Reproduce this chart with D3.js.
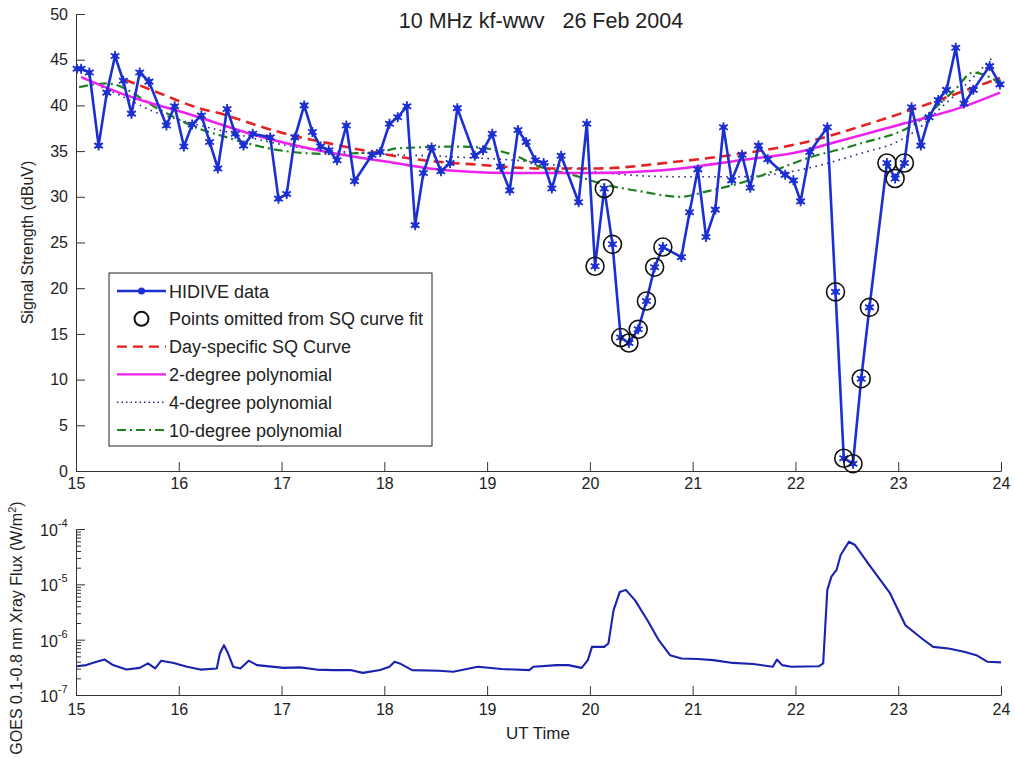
<!DOCTYPE html>
<html>
<head>
<meta charset="utf-8">
<script src="https://cdn.jsdelivr.net/npm/d3@7"></script>
<style>
  body { margin: 0; background: #fff; }
  svg text { font-family: "Liberation Sans", Arial, sans-serif; fill: #222; }
</style>
</head>
<body>
<div id="chart"></div>
<script>
// HIDIVE signal strength, 10 MHz kf-wwv, 26 Feb 2004 (UT hours, dBuV)
const hidiveTime = [15.01, 15.05, 15.13, 15.22, 15.30, 15.38, 15.46, 15.54, 15.62, 15.71,
  15.88, 15.96, 16.05, 16.13, 16.22, 16.30, 16.38, 16.47, 16.55, 16.63, 16.72, 16.89,
  16.97, 17.05, 17.13, 17.22, 17.30, 17.38, 17.46, 17.54, 17.63, 17.71, 17.88, 17.96,
  18.05, 18.13, 18.22, 18.30, 18.38, 18.46, 18.55, 18.64, 18.71, 18.88, 18.96, 19.05,
  19.13, 19.22, 19.30, 19.38, 19.47, 19.55, 19.63, 19.72, 19.89, 19.97, 20.05, 20.14,
  20.22, 20.30, 20.38, 20.47, 20.55, 20.63, 20.71, 20.89, 20.97, 21.05, 21.13, 21.22,
  21.30, 21.38, 21.48, 21.56, 21.64, 21.73, 21.90, 21.98, 22.05, 22.14, 22.31, 22.39,
  22.47, 22.56, 22.64, 22.72, 22.89, 22.97, 23.06, 23.13, 23.22, 23.30, 23.39, 23.47,
  23.56, 23.64, 23.73, 23.89, 23.99];
const hidiveValue = [44.0, 44.0, 43.6, 35.6, 41.4, 45.4, 42.7, 39.1, 43.6, 42.6,
  37.8, 39.9, 35.5, 37.9, 38.9, 36.0, 33.1, 39.6, 36.9, 35.6, 36.9, 36.5,
  29.8, 30.3, 36.5, 40.0, 37.1, 35.5, 35.1, 34.0, 37.8, 31.7, 34.6, 34.9,
  38.0, 38.7, 39.9, 26.9, 32.6, 35.4, 32.8, 33.7, 39.7, 34.5, 35.1, 36.9,
  33.3, 30.7, 37.3, 36.0, 34.0, 33.7, 30.9, 34.5, 29.4, 38.0, 22.4, 30.9,
  24.8, 14.6, 14.0, 15.5, 18.6, 22.3, 24.5, 23.4, 28.3, 33.0, 25.6, 28.6,
  37.6, 31.8, 34.6, 31.0, 35.6, 34.1, 32.4, 31.8, 29.5, 34.9, 37.6, 19.6,
  1.4, 0.8, 10.1, 17.9, 33.7, 32.0, 33.7, 39.8, 35.6, 38.7, 40.6, 41.7,
  46.3, 40.2, 41.7, 44.3, 42.3];
// times of the points left out of the SQ curve fit
const omittedTime = [20.05, 20.14, 20.22, 20.30, 20.38, 20.47, 20.55, 20.63, 20.71,
  22.39, 22.47, 22.56, 22.64, 22.72, 22.89, 22.97, 23.06];

// fitted curves
const sqTime = [15.48, 15.82, 16.14, 16.47, 16.79, 17.11, 17.44, 17.93, 18.38, 18.93,
  19.51, 20.07, 20.81, 21.46, 22.11, 22.69, 23.02, 23.67, 23.99];
const sqValue = [42.8, 41.3, 39.9, 38.9, 37.7, 36.7, 35.9, 34.8, 34.0, 33.5,
  33.1, 33.1, 33.8, 34.7, 36.0, 37.9, 39.1, 41.7, 43.0];
const poly2Time = [15.05, 15.49, 16.14, 16.79, 17.44, 18.05, 18.44, 19.25, 20.03, 20.71,
  21.46, 22.11, 22.36, 23.02, 23.67, 23.99];
const poly2Value = [43.1, 41.1, 38.9, 36.6, 34.9, 33.8, 33.1, 32.6, 32.6, 32.9,
  34.0, 35.1, 35.9, 37.9, 40.0, 41.4];
const poly4Time = [15.25, 15.43, 15.72, 16.14, 16.47, 17.11, 17.76, 18.61, 19.46, 20.16,
  20.81, 21.46, 22.11, 22.59, 23.02, 23.18, 23.43, 23.50, 23.93];
const poly4Value = [42.0, 41.1, 39.5, 38.0, 37.1, 35.5, 34.8, 34.4, 33.8, 32.6,
  32.2, 32.2, 33.1, 34.6, 36.2, 37.3, 39.9, 40.6, 45.4];
const poly10Time = [15.03, 15.30, 15.82, 16.14, 16.47, 16.79, 17.11, 17.44, 17.96, 18.12,
  18.76, 19.25, 19.51, 19.83, 20.16, 20.49, 20.88, 21.14, 21.46, 21.78, 22.11, 22.59,
  23.18, 23.55, 23.73, 23.85, 23.99];
const poly10Value = [42.0, 42.4, 39.5, 37.7, 36.5, 35.5, 34.9, 34.7, 34.9, 35.3,
  35.5, 34.6, 33.3, 32.4, 31.3, 30.6, 30.0, 30.6, 31.5, 32.8, 34.2, 35.7,
  38.1, 41.7, 43.6, 43.3, 42.4];

// GOES 0.1-0.8 nm X-ray flux (W/m^2)
const goesTime = [15.01, 15.10, 15.20, 15.28, 15.36, 15.49, 15.62, 15.70, 15.77, 15.83,
  15.95, 16.08, 16.21, 16.37, 16.40, 16.44, 16.48, 16.53, 16.60, 16.68, 16.76, 17.02,
  17.18, 17.34, 17.50, 17.67, 17.79, 17.96, 18.05, 18.10, 18.15, 18.27, 18.53, 18.67,
  18.91, 19.14, 19.41, 19.45, 19.68, 19.79, 19.92, 19.98, 20.02, 20.14, 20.18, 20.23,
  20.29, 20.35, 20.44, 20.56, 20.67, 20.78, 20.89, 21.05, 21.20, 21.39, 21.59, 21.78,
  21.82, 21.87, 21.96, 22.23, 22.27, 22.31, 22.35, 22.40, 22.44, 22.52, 22.58, 22.73,
  22.92, 23.07, 23.23, 23.34, 23.49, 23.64, 23.76, 23.87, 24.00];
const goesFlux = [3.31e-7, 3.47e-7, 3.98e-7, 4.37e-7, 3.47e-7, 2.88e-7, 3.09e-7, 3.72e-7, 3.02e-7, 4.17e-7,
  3.80e-7, 3.24e-7, 2.88e-7, 3.02e-7, 5.62e-7, 7.94e-7, 5.62e-7, 3.24e-7, 3.02e-7, 4.17e-7, 3.47e-7, 3.09e-7,
  3.16e-7, 2.88e-7, 2.82e-7, 2.82e-7, 2.51e-7, 2.82e-7, 3.24e-7, 3.98e-7, 3.72e-7, 2.82e-7, 2.75e-7, 2.63e-7,
  3.24e-7, 2.95e-7, 2.82e-7, 3.24e-7, 3.47e-7, 3.47e-7, 3.09e-7, 4.27e-7, 7.41e-7, 7.41e-7, 8.51e-7, 3.39e-6,
  7.24e-6, 7.94e-6, 5.13e-6, 2.24e-6, 9.77e-7, 5.25e-7, 4.57e-7, 4.47e-7, 4.27e-7, 3.80e-7, 3.63e-7, 3.24e-7,
  4.37e-7, 3.47e-7, 3.24e-7, 3.31e-7, 3.72e-7, 7.94e-6, 1.38e-5, 1.82e-5, 3.39e-5, 5.89e-5, 5.13e-5, 2.09e-5,
  6.92e-6, 1.82e-6, 1.05e-6, 7.41e-7, 6.92e-7, 6.03e-7, 5.25e-7, 3.98e-7, 3.89e-7];

const xTicks = [15, 16, 17, 18, 19, 20, 21, 22, 23, 24];
const yTicks = [0, 5, 10, 15, 20, 25, 30, 35, 40, 45, 50];
const fluxTicks = [1e-7, 1e-6, 1e-5, 1e-4];

const legendLabels = ["HIDIVE data", "Points omitted from SQ curve fit", "Day-specific SQ Curve",
  "2-degree polynomial", "4-degree polynomial", "10-degree polynomial"];

const outerWidth = 1015;
const outerHeight = 757;

const blue = "#1b2fd2";
const svg = d3.select("#chart")
  .append("svg")
  .attr("width", outerWidth)
  .attr("height", outerHeight);

// scales
const x = d3.scaleLinear().domain([15, 24]).range([76, 1001]);
const y = d3.scaleLinear().domain([0, 50]).range([471, 14]);
const yFlux = d3.scaleLog().domain([1e-7, 1e-4]).range([695, 529]);

const zip = (xs, ys) => xs.map((t, i) => [t, ys[i]]);

// ---------- top panel ----------
const topPanel = svg.append("g");

function styleAxis(g) {
  g.selectAll("path, line").attr("stroke", "#333").attr("stroke-width", 1);
  g.selectAll("text").attr("font-size", 16).attr("fill", "#222")
    .attr("font-family", '"Liberation Sans", Arial, sans-serif');
}

topPanel.append("g")
  .attr("transform", `translate(0, ${y(0)})`)
  .call(d3.axisBottom(x).tickValues(xTicks).tickSize(-9).tickSizeOuter(0).tickPadding(7).tickFormat(d3.format("d")))
  .call(styleAxis);

topPanel.append("g")
  .attr("transform", `translate(${x(15)}, 0)`)
  .call(d3.axisLeft(y).tickValues(yTicks).tickSize(-9).tickSizeOuter(0).tickPadding(8))
  .call(styleAxis);

topPanel.append("text")
  .attr("transform", `translate(33, ${(y(0) + y(50)) / 2}) rotate(-90)`)
  .attr("text-anchor", "middle")
  .attr("font-size", 16)
  .text("Signal Strength (dBuV)");

topPanel.append("text")
  .attr("x", 541).attr("y", 28)
  .attr("text-anchor", "middle")
  .attr("font-size", 21.5)
  .attr("fill", "#111")
  .style("white-space", "pre")
  .text("10 MHz kf-wwv   26 Feb 2004");

const line = d3.line().x(d => x(d[0])).y(d => y(d[1]));
const smooth = d3.line().x(d => x(d[0])).y(d => y(d[1])).curve(d3.curveMonotoneX);

topPanel.append("path").datum(zip(poly4Time, poly4Value))
  .attr("fill", "none").attr("stroke", "#262690").attr("stroke-width", 1.6)
  .attr("stroke-dasharray", "1.6,4.4").attr("d", smooth);
topPanel.append("path").datum(zip(poly10Time, poly10Value))
  .attr("fill", "none").attr("stroke", "#1d801d").attr("stroke-width", 2.2)
  .attr("stroke-dasharray", "9,4,2,4").attr("d", smooth);
topPanel.append("path").datum(zip(poly2Time, poly2Value))
  .attr("fill", "none").attr("stroke", "#ee22ee").attr("stroke-width", 2.6)
  .attr("d", smooth);
topPanel.append("path").datum(zip(sqTime, sqValue))
  .attr("fill", "none").attr("stroke", "#e42222").attr("stroke-width", 2.6)
  .attr("stroke-dasharray", "10,6").attr("d", smooth);

const hidive = zip(hidiveTime, hidiveValue);
topPanel.append("path").datum(hidive)
  .attr("fill", "none").attr("stroke", blue).attr("stroke-width", 2.6)
  .attr("stroke-linejoin", "round").attr("d", line);

const star = d3.symbol(d3.symbolAsterisk, 70);
const marks = topPanel.append("g").selectAll("g")
  .data(hidive).join("g")
  .attr("transform", d => `translate(${x(d[0])}, ${y(d[1])})`);
marks.append("path").attr("d", star).attr("fill", "none").attr("stroke", blue).attr("stroke-width", 1.8);
marks.append("circle").attr("r", 2.8).attr("fill", blue);

topPanel.append("g").selectAll("circle")
  .data(hidive.filter(d => omittedTime.includes(d[0])))
  .join("circle")
  .attr("cx", d => x(d[0])).attr("cy", d => y(d[1]))
  .attr("r", 9).attr("fill", "none").attr("stroke", "#111").attr("stroke-width", 1.6);

// legend
const legend = topPanel.append("g").attr("transform", "translate(109, 273)");
legend.append("rect").attr("width", 323).attr("height", 173)
  .attr("fill", "#fff").attr("stroke", "#222").attr("stroke-width", 1);
const rowY = i => 18 + i * 27.8;
const sampleStyles = [
  { stroke: blue, width: 2.4, dash: null },
  null,
  { stroke: "#e42222", width: 2.4, dash: "10,6" },
  { stroke: "#ee22ee", width: 2.4, dash: null },
  { stroke: "#262690", width: 1.4, dash: "1.5,3" },
  { stroke: "#1d801d", width: 2.2, dash: "9,4,2,4" }
];
sampleStyles.forEach((s, i) => {
  if (!s) return;
  legend.append("line")
    .attr("x1", 8).attr("x2", 57).attr("y1", rowY(i)).attr("y2", rowY(i))
    .attr("stroke", s.stroke).attr("stroke-width", s.width)
    .attr("stroke-dasharray", s.dash);
});
legend.append("circle").attr("cx", 32.5).attr("cy", rowY(0)).attr("r", 3.5).attr("fill", blue);
legend.append("circle").attr("cx", 32.5).attr("cy", rowY(1)).attr("r", 7)
  .attr("fill", "none").attr("stroke", "#111").attr("stroke-width", 2);
legend.selectAll("text.lab")
  .data(legendLabels).join("text")
  .attr("class", "lab")
  .attr("x", 60).attr("y", (d, i) => rowY(i) + 6.5)
  .attr("font-size", 18)
  .text(d => d);

// ---------- bottom panel ----------
const bottomPanel = svg.append("g");

bottomPanel.append("g")
  .attr("transform", `translate(0, ${yFlux(1e-7)})`)
  .call(d3.axisBottom(x).tickValues(xTicks).tickSize(-9).tickSizeOuter(0).tickPadding(9).tickFormat(d3.format("d")))
  .call(styleAxis);

const minorTicks = [];
[1e-7, 1e-6, 1e-5].forEach(dec => { for (let k = 2; k <= 9; k++) minorTicks.push(dec * k); });

bottomPanel.append("g")
  .attr("transform", `translate(${x(15)}, 0)`)
  .call(d3.axisLeft(yFlux).tickValues(minorTicks).tickSize(-5).tickSizeOuter(0).tickFormat(""))
  .call(styleAxis);
bottomPanel.append("g")
  .attr("transform", `translate(${x(15)}, 0)`)
  .call(d3.axisLeft(yFlux).tickValues(fluxTicks).tickSize(-9).tickSizeOuter(0).tickFormat(""))
  .call(styleAxis);

const fluxLabels = bottomPanel.append("g").selectAll("text")
  .data(fluxTicks).join("text")
  .attr("x", 40).attr("y", d => yFlux(d) + 7)
  .attr("font-size", 16);
fluxLabels.append("tspan").text("10");
fluxLabels.append("tspan").attr("dy", -9).attr("font-size", 11)
  .text(d => Math.round(Math.log10(d)));

bottomPanel.append("path").datum(zip(goesTime, goesFlux))
  .attr("fill", "none").attr("stroke", "#1a22b0").attr("stroke-width", 2.1)
  .attr("stroke-linejoin", "round")
  .attr("d", d3.line().x(d => x(d[0])).y(d => yFlux(d[1])));

const goesLabel = bottomPanel.append("text")
  .attr("transform", `translate(22, 628) rotate(-90)`)
  .attr("text-anchor", "middle")
  .attr("font-size", 16);
goesLabel.append("tspan").text("GOES 0.1-0.8 nm Xray Flux (W/m");
goesLabel.append("tspan").attr("dy", -6).attr("font-size", 11).text("2");
goesLabel.append("tspan").attr("dy", 6).text(")");

bottomPanel.append("text")
  .attr("x", 538).attr("y", 739)
  .attr("text-anchor", "middle")
  .attr("font-size", 17)
  .text("UT Time");
</script>
</body>
</html>
